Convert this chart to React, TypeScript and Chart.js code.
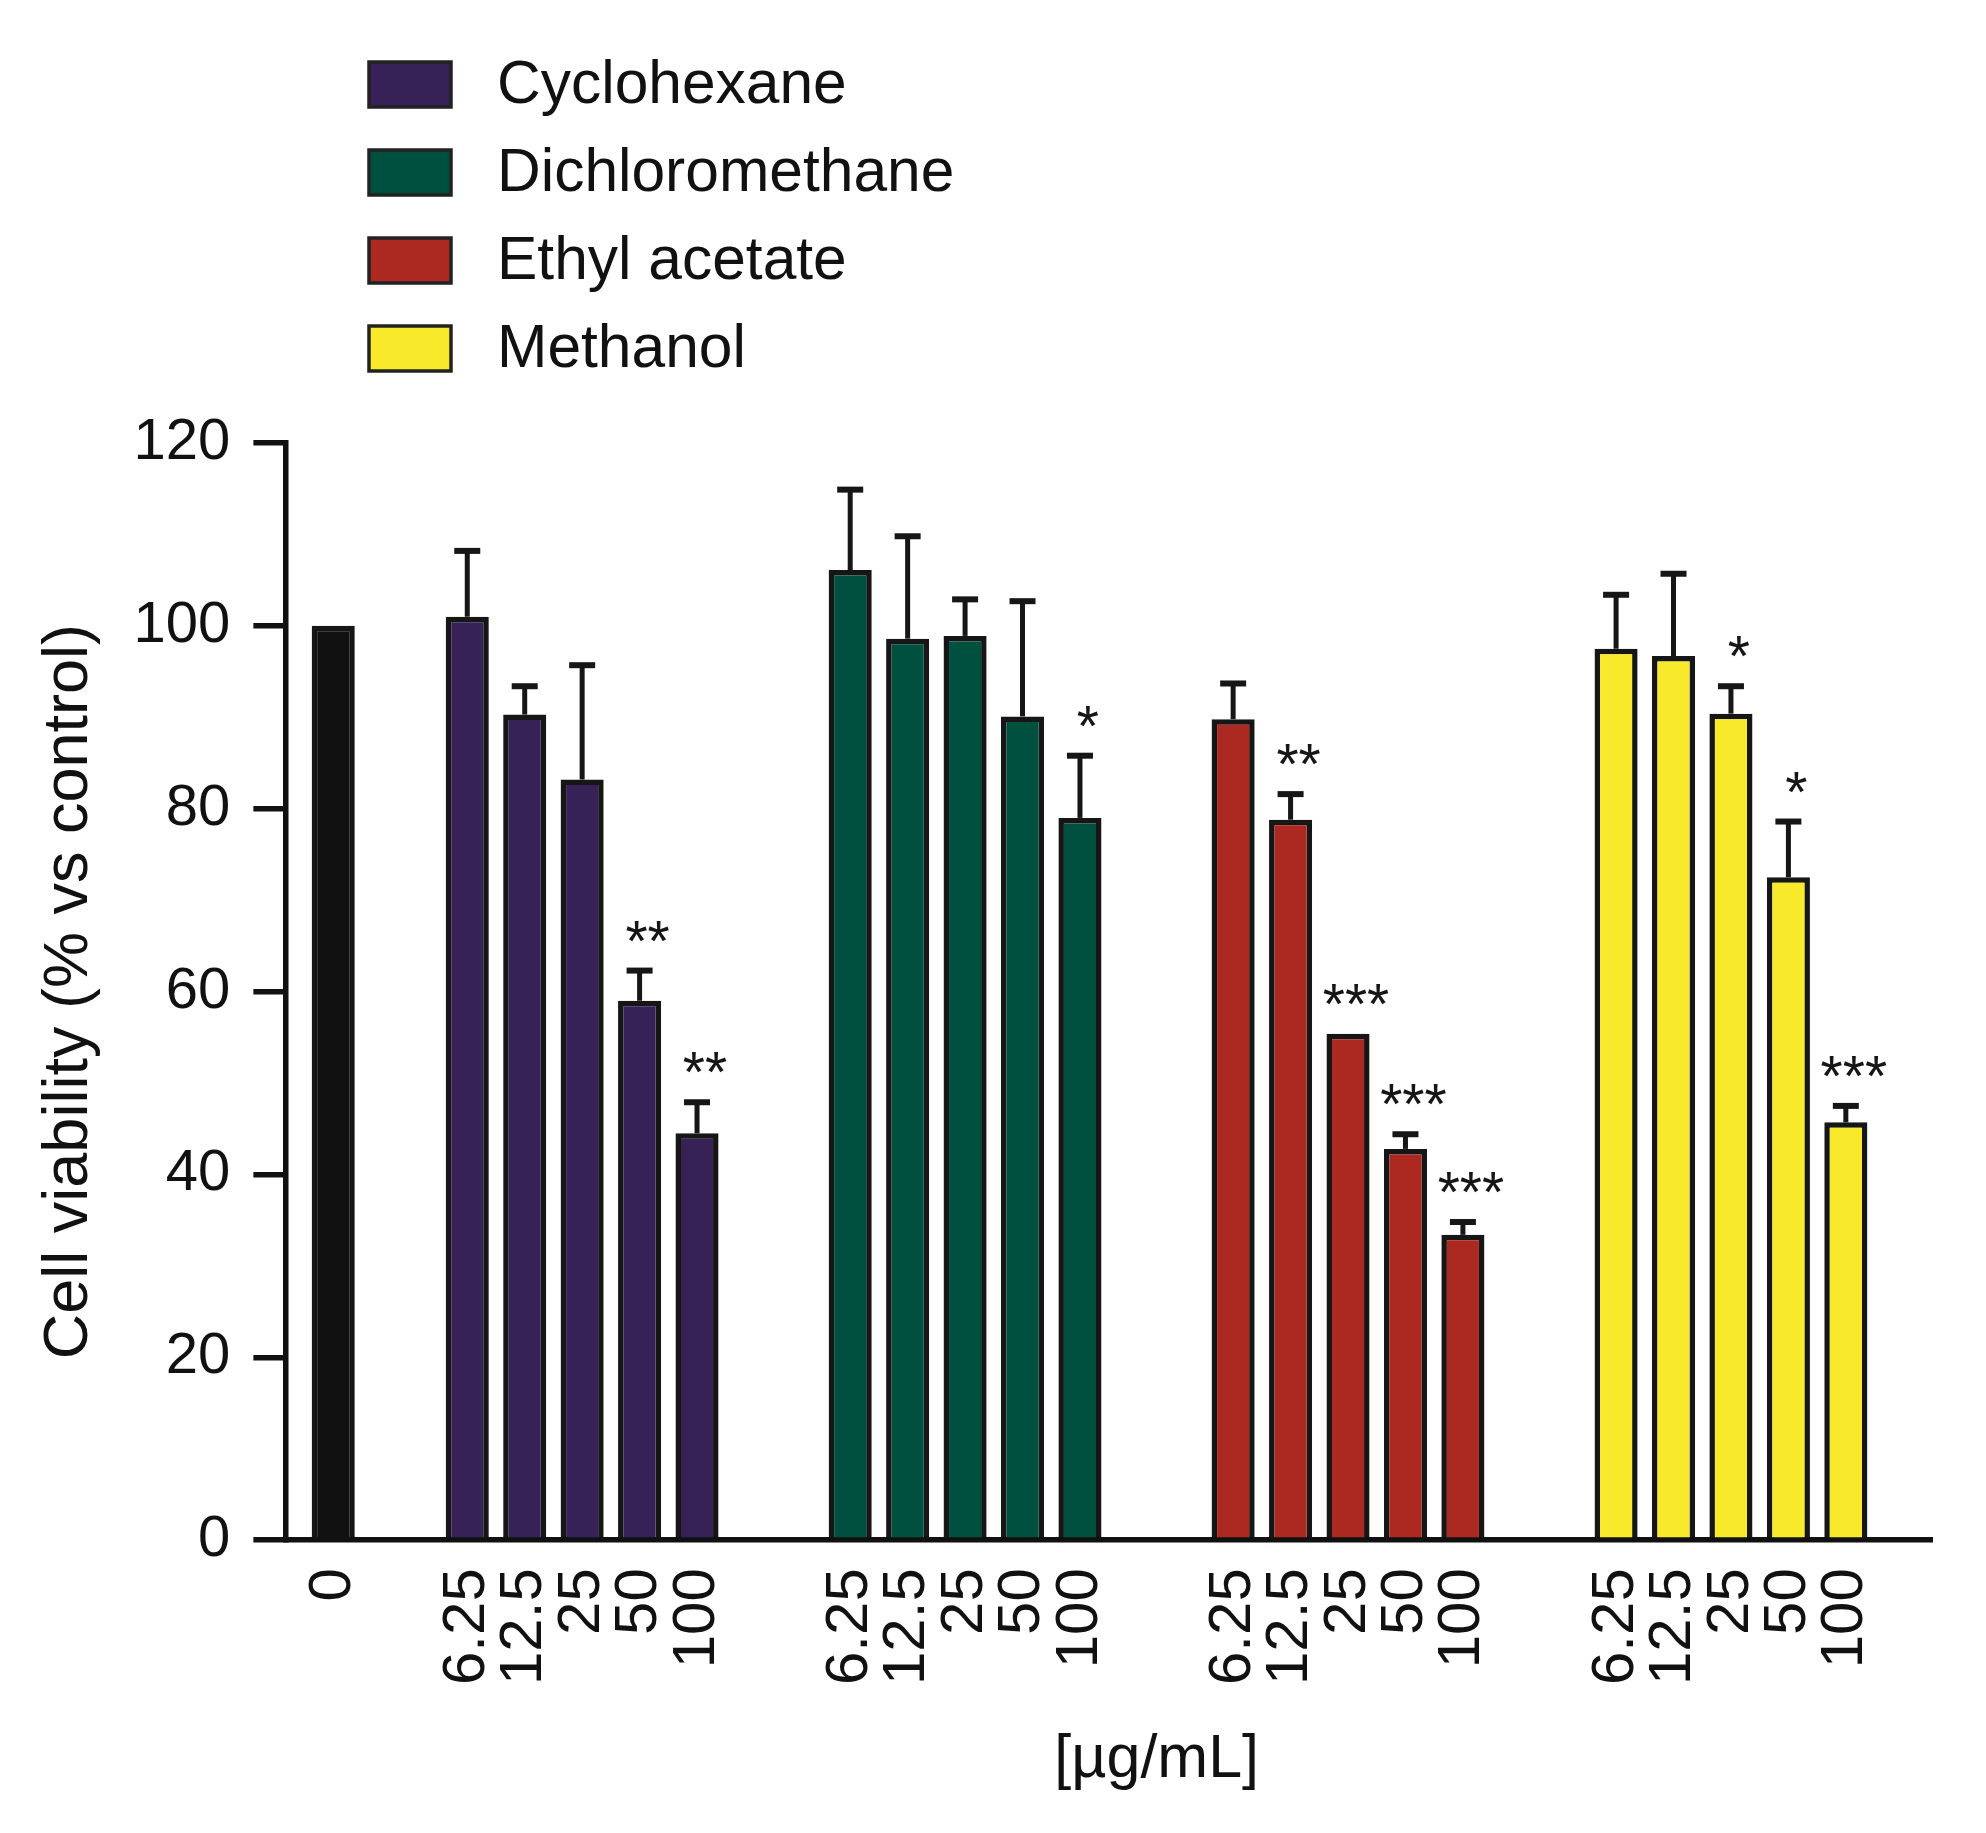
import { useEffect, useRef } from "react";
import { Chart, registerables } from "chart.js";

Chart.register(...registerables);

const FONT = "'Liberation Sans', Arial, Helvetica, sans-serif";

// control
const controlLabel = "0";
const controlValue = 100;
const controlColor = "#111111";

// extracts and concentrations [µg/mL]
const solvents = ["Cyclohexane", "Dichloromethane", "Ethyl acetate", "Methanol"];
const solventColors = ["#372258", "#00503f", "#ab2921", "#f8ea2b"];
const concentrations = ["6.25", "12.5", "25", "50", "100"];

// cell viability (% vs control), upper error and significance marks
const cyclohexaneMean = [101.0, 90.3, 83.2, 59.0, 44.5];
const cyclohexaneErr = [7.2, 3.1, 12.5, 3.3, 3.4];
const cyclohexaneSig = ["", "", "", "**", "**"];

const dichloromethaneMean = [106.1, 98.6, 98.9, 90.1, 79.0];
const dichloromethaneErr = [8.8, 11.2, 4.0, 12.6, 6.8];
const dichloromethaneSig = ["", "", "", "", "*"];

const ethylAcetateMean = [89.8, 78.8, 55.4, 42.8, 33.4];
const ethylAcetateErr = [3.9, 2.8, 0, 1.6, 1.4];
const ethylAcetateSig = ["", "**", "***", "***", "***"];

const methanolMean = [97.5, 96.7, 90.4, 72.5, 45.7];
const methanolErr = [5.9, 9.0, 3.0, 6.1, 1.8];
const methanolSig = ["", "", "*", "*", "***"];

const yTicks = [0, 20, 40, 60, 80, 100, 120];

const means = [cyclohexaneMean, dichloromethaneMean, ethylAcetateMean, methanolMean];
const errs = [cyclohexaneErr, dichloromethaneErr, ethylAcetateErr, methanolErr];
const sigs = [cyclohexaneSig, dichloromethaneSig, ethylAcetateSig, methanolSig];

type Slot = { label: string; value: number | null; err: number; sig: string; color: string };

// the x axis is split in thirds of a bar slot so the gaps between groups come out right
function buildSlots(): Slot[] {
  const out: Slot[] = [];
  const pad = (n: number) => {
    for (let i = 0; i < n; i++) out.push({ label: "", value: null, err: 0, sig: "", color: "rgba(0,0,0,0)" });
  };
  pad(2);
  out.push({ label: controlLabel, value: controlValue, err: 0, sig: "", color: controlColor });
  pad(6);
  solvents.forEach((_, g) => {
    concentrations.forEach((c, i) => {
      out.push({ label: c, value: means[g][i], err: errs[g][i], sig: sigs[g][i], color: solventColors[g] });
      if (i < concentrations.length - 1) pad(2);
    });
    if (g < solvents.length - 1) pad(7);
  });
  pad(4);
  return out;
}

const slots = buildSlots();

const extras = {
  id: "extras",
  afterDatasetsDraw(chart: any) {
    const { ctx, scales } = chart;
    const meta = chart.getDatasetMeta(0);
    const y = scales.y;
    ctx.save();
    slots.forEach((s, i) => {
      if (s.value === null) return;
      const bar = meta.data[i];
      const top = y.getPixelForValue(s.value + s.err);
      if (s.err > 0) {
        ctx.strokeStyle = "#161616";
        ctx.lineWidth = 5;
        ctx.beginPath();
        ctx.moveTo(bar.x, y.getPixelForValue(s.value));
        ctx.lineTo(bar.x, top);
        ctx.stroke();
        ctx.lineWidth = 6;
        ctx.beginPath();
        ctx.moveTo(bar.x - 13, top);
        ctx.lineTo(bar.x + 13, top);
        ctx.stroke();
      }
      if (s.sig) {
        ctx.fillStyle = "#161616";
        ctx.font = `57px ${FONT}`;
        ctx.textAlign = "center";
        ctx.textBaseline = "alphabetic";
        ctx.fillText(s.sig, bar.x + 8, top - 10);
      }
    });
    ctx.restore();
  },
  afterDraw(chart: any) {
    const { ctx, chartArea } = chart;
    ctx.save();
    // legend
    solvents.forEach((name, i) => {
      const cy = 76 + i * 88;
      ctx.fillStyle = solventColors[i];
      ctx.fillRect(361, cy - 22, 82, 45);
      ctx.strokeStyle = "#222";
      ctx.lineWidth = 3.5;
      ctx.strokeRect(361, cy - 22, 82, 45);
      ctx.fillStyle = "#111";
      ctx.font = `60.5px ${FONT}`;
      ctx.textAlign = "left";
      ctx.textBaseline = "middle";
      ctx.fillText(name, 489, cy + 2);
    });
    // x axis title
    ctx.fillStyle = "#111";
    ctx.font = `61px ${FONT}`;
    ctx.textAlign = "center";
    ctx.textBaseline = "middle";
    ctx.fillText("[\u00b5g/mL]", (chartArea.left + chartArea.right) / 2 + 48, 1752);
    ctx.restore();
  },
};

export default function App() {
  const chartRef = useRef<HTMLCanvasElement | null>(null);

  useEffect(() => {
    if (!chartRef.current) return;
    const ctx = chartRef.current.getContext("2d");
    if (!ctx) return;

    const chart = new Chart(ctx, {
      type: "bar",
      data: {
        labels: slots.map((s) => s.label),
        datasets: [
          {
            label: "Cell viability",
            data: slots.map((s) => s.value),
            backgroundColor: slots.map((s) => s.color),
            borderColor: "#161616",
            borderWidth: 5.5,
            categoryPercentage: 1,
            barPercentage: 2.25,
          },
        ],
      },
      options: {
        animation: false,
        responsive: true,
        maintainAspectRatio: false,
        layout: { padding: { top: 435, left: 15, right: 46, bottom: 112 } },
        plugins: {
          legend: { display: false },
          tooltip: { enabled: false },
        },
        scales: {
          x: {
            offset: true,
            afterFit: (axis: any) => {
              axis.paddingLeft = 0;
              axis.paddingRight = 0;
            },
            grid: { display: false, drawTicks: false },
            border: { display: true, color: "#111", width: 5.5 },
            ticks: {
              autoSkip: false,
              minRotation: 90,
              maxRotation: 90,
              padding: 28,
              color: "#111",
              font: { family: FONT, size: 60 },
            },
          },
          y: {
            min: 0,
            max: 120,
            afterBuildTicks: (axis: any) => {
              axis.ticks = yTicks.map((v) => ({ value: v }));
            },
            grid: {
              drawOnChartArea: false,
              drawTicks: true,
              tickLength: 32,
              color: "#111",
              lineWidth: 5.5,
            },
            border: { display: true, color: "#111", width: 5.5 },
            ticks: {
              padding: 23,
              color: "#111",
              font: { family: FONT, size: 58 },
            },
            title: {
              display: true,
              text: "Cell viability (% vs control)",
              color: "#111",
              font: { family: FONT, size: 63 },
              padding: { top: 9, bottom: 3 },
            },
          },
        },
      },
      plugins: [extras],
    });

    return () => {
      chart.destroy();
    };
  }, []);

  return (
    <div style={{ width: 1970, height: 1817, position: "relative" }}>
      <canvas ref={chartRef}></canvas>
    </div>
  );
}
